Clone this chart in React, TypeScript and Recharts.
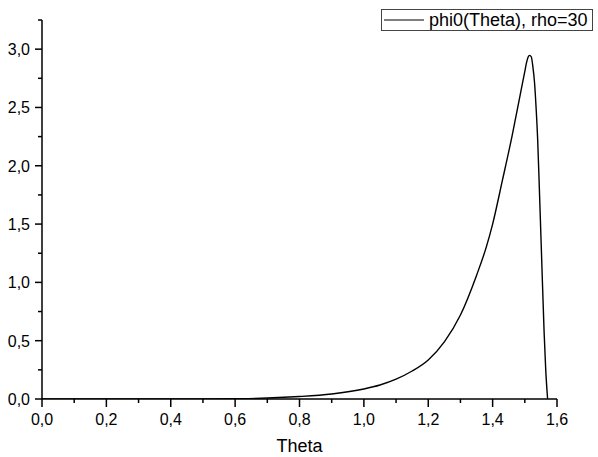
import React from "react";
import { LineChart, Line, XAxis, YAxis, Legend, Label } from "recharts";

const thetaValues = [
  0, 0.1, 0.2, 0.3, 0.4, 0.5, 0.6, 0.7, 0.8, 0.9, 1.0, 1.05, 1.1, 1.15, 1.2,
  1.25, 1.3, 1.35, 1.38, 1.4, 1.43, 1.46, 1.49, 1.5, 1.505, 1.51, 1.515, 1.52,
  1.525, 1.53, 1.535, 1.54, 1.545, 1.55, 1.555, 1.56, 1.565, 1.5708,
];
const phiValues = [
  0, 0, 0, 0, 0.0005, 0.001, 0.003, 0.008, 0.021, 0.043, 0.086, 0.12, 0.17,
  0.24, 0.335, 0.49, 0.72, 1.06, 1.3, 1.5, 1.87, 2.25, 2.67, 2.81, 2.88, 2.93,
  2.947, 2.935, 2.85, 2.72, 2.5, 2.22, 1.82, 1.4, 0.98, 0.57, 0.25, 0,
];
const xTicks = [0, 0.1, 0.2, 0.3, 0.4, 0.5, 0.6, 0.7, 0.8, 0.9, 1.0, 1.1, 1.2, 1.3, 1.4, 1.5, 1.6];
const yTicks = [0, 0.25, 0.5, 0.75, 1.0, 1.25, 1.5, 1.75, 2.0, 2.25, 2.5, 2.75, 3.0, 3.25];
const seriesName = "phi0(Theta), rho=30";
const xTitle = "Theta";

const data = thetaValues.map((t, i) => ({ theta: t, phi: phiValues[i] }));

const FONT = "'Liberation Sans', Arial, sans-serif";
const fmt = (v: number) => v.toFixed(1).replace(".", ",");

const XTick = (props: any) => {
  const { x, y, payload } = props;
  const v = payload.value as number;
  const major = Math.round(v * 10) % 2 === 0;
  return (
    <g>
      <line x1={x} x2={x} y1={y} y2={y + (major ? 8 : 4)} stroke="#000" strokeWidth={1.5} />
      {major && (
        <text x={x} y={y + 26} textAnchor="middle" fontSize={16} fontFamily={FONT} fill="#000">
          {fmt(v)}
        </text>
      )}
    </g>
  );
};

const YTick = (props: any) => {
  const { x, y, payload } = props;
  const v = payload.value as number;
  const major = Math.round(v * 4) % 2 === 0;
  return (
    <g>
      <line x1={x} x2={x - (major ? 7 : 4)} y1={y} y2={y} stroke="#000" strokeWidth={1.5} />
      {major && (
        <text x={x - 12} y={y + 6} textAnchor="end" fontSize={16} fontFamily={FONT} fill="#000">
          {fmt(v)}
        </text>
      )}
    </g>
  );
};

const LegendBox = () => (
  <div
    style={{
      boxSizing: "border-box",
      width: 212,
      height: 22,
      border: "1px solid #444",
      display: "flex",
      alignItems: "center",
      fontFamily: FONT,
      fontSize: 18,
      color: "#000",
      background: "#fff",
      whiteSpace: "nowrap",
      overflow: "visible",
    }}
  >
    <svg width={47} height={20} style={{ flex: "none" }}>
      <line x1={2} x2={42} y1={10} y2={10} stroke="#000" strokeWidth={1.2} />
    </svg>
    <span style={{ lineHeight: "20px" }}>{seriesName}</span>
  </div>
);

export default function App() {
  return (
    <div style={{ position: "absolute", left: 0, top: 0, background: "#fff" }}>
      <LineChart width={598} height={457} data={data} margin={{ top: 20, right: 41, bottom: 0, left: 0 }}>
        <XAxis
          dataKey="theta"
          type="number"
          domain={[0, 1.6]}
          ticks={xTicks}
          interval={0}
          tickSize={0}
          tickMargin={0}
          tickLine={false}
          tick={<XTick />}
          axisLine={{ stroke: "#000", strokeWidth: 1.5 }}
          height={58}
          allowDataOverflow
        >
          <Label
            value={xTitle}
            position="insideBottom"
            offset={5}
            style={{ fontFamily: FONT, fontSize: 18, fill: "#000" }}
          />
        </XAxis>
        <YAxis
          type="number"
          domain={[0, 3.25]}
          ticks={yTicks}
          interval={0}
          tickSize={0}
          tickMargin={0}
          tickLine={false}
          tick={<YTick />}
          axisLine={{ stroke: "#000", strokeWidth: 1.5 }}
          width={42}
          allowDataOverflow
        />
        <Legend
          layout="vertical"
          verticalAlign="middle"
          align="center"
          content={<LegendBox />}
          wrapperStyle={{ left: 381, top: 9, width: 212 }}
        />
        <Line
          type="monotone"
          dataKey="phi"
          name={seriesName}
          stroke="#000"
          strokeWidth={1.4}
          dot={false}
          isAnimationActive={false}
        />
      </LineChart>
    </div>
  );
}
